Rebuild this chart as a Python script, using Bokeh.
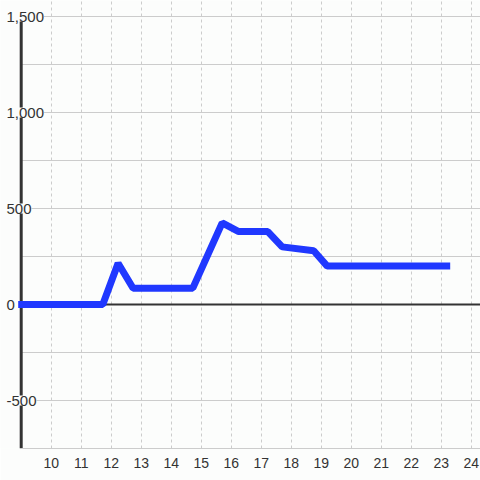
from bokeh.plotting import figure
from bokeh.models import ColumnDataSource, LabelSet, FixedTicker, Range1d
from bokeh.core.properties import value
from bokeh.embed import file_html
from bokeh.resources import INLINE

# ---- data ----
hours = [8.9, 11.72, 12.23, 12.73, 14.72, 15.7, 16.25, 17.22, 17.7, 18.75, 19.2, 23.3]
values = [0, 0, 215, 85, 85, 425, 380, 380, 300, 280, 200, 200]
x_ticks = [10, 11, 12, 13, 14, 15, 16, 17, 18, 19, 20, 21, 22, 23, 24]
y_grid_values = [-500, -250, 250, 500, 750, 1000, 1250, 1500]
y_label_values = [-500, 0, 500, 1000, 1500]
y_label_texts = ["-500", "0", "500", "1,000", "1,500"]

# ---- styling / layout ----
BG = "#fcfdfc"
GRID = "#cccccc"
DARK = "#333333"
TEXT = "#333333"
BLUE = "#2038ff"
FONT = "Liberation Sans"

W, H = 480, 480
BOTTOM = 32
px_per_x = 30.0
axis_x = 9
x_start = axis_x - 20.7 / px_per_x
x_end = x_start + W / px_per_x
y_min = -750
y_max = 1500 + 16 * 500 / 96

p = figure(width=W, height=H, output_backend="svg", toolbar_location=None,
           x_range=Range1d(x_start, x_end), y_range=Range1d(y_min, y_max),
           y_axis_location=None,
           min_border_left=0, min_border_right=0, min_border_top=0,
           min_border_bottom=BOTTOM,
           background_fill_color=BG, border_fill_color=BG,
           outline_line_color=None)

# vertical dotted grid
p.xgrid.ticker = FixedTicker(ticks=x_ticks)
p.xgrid.grid_line_color = GRID
p.xgrid.grid_line_dash = "3 3"
p.xgrid.grid_line_width = 1
p.ygrid.visible = False

# x axis
p.xaxis.ticker = FixedTicker(ticks=x_ticks)
p.xaxis.bounds = (axis_x, x_end)
p.xaxis.axis_line_color = GRID
p.xaxis.axis_line_width = 1
p.xaxis.major_tick_line_color = None
p.xaxis.minor_tick_line_color = None
p.xaxis.major_label_text_font = FONT
p.xaxis.major_label_text_font_size = "14px"
p.xaxis.major_label_text_color = TEXT
p.xaxis.major_label_standoff = 3

# horizontal grid lines starting at the y axis
gsrc = ColumnDataSource(dict(y=y_grid_values,
                             x0=[axis_x] * len(y_grid_values),
                             x1=[x_end] * len(y_grid_values)))
p.segment(x0="x0", y0="y", x1="x1", y1="y", source=gsrc,
          line_color=GRID, line_width=1)

# zero line
p.segment(x0=[axis_x], y0=[0], x1=[x_end], y1=[0], line_color=DARK, line_width=2)

# y axis line
p.segment(x0=[axis_x], y0=[y_min], x1=[axis_x], y1=[1500], line_color=DARK, line_width=3)

# data line
p.line(hours, values, line_color=BLUE, line_width=7)

# y labels with background
label_x = x_start + 6 / px_per_x
lsrc = ColumnDataSource(dict(x=[label_x] * len(y_label_values),
                             y=y_label_values, text=y_label_texts))
labels = LabelSet(x="x", y="y", text="text", source=lsrc,
                  text_align="left", text_baseline="middle",
                  text_font=value(FONT), text_font_size=value("15px"),
                  text_color=TEXT, background_fill_color=BG)
p.add_layout(labels)

open("out.html", "w").write(file_html(p, INLINE))
